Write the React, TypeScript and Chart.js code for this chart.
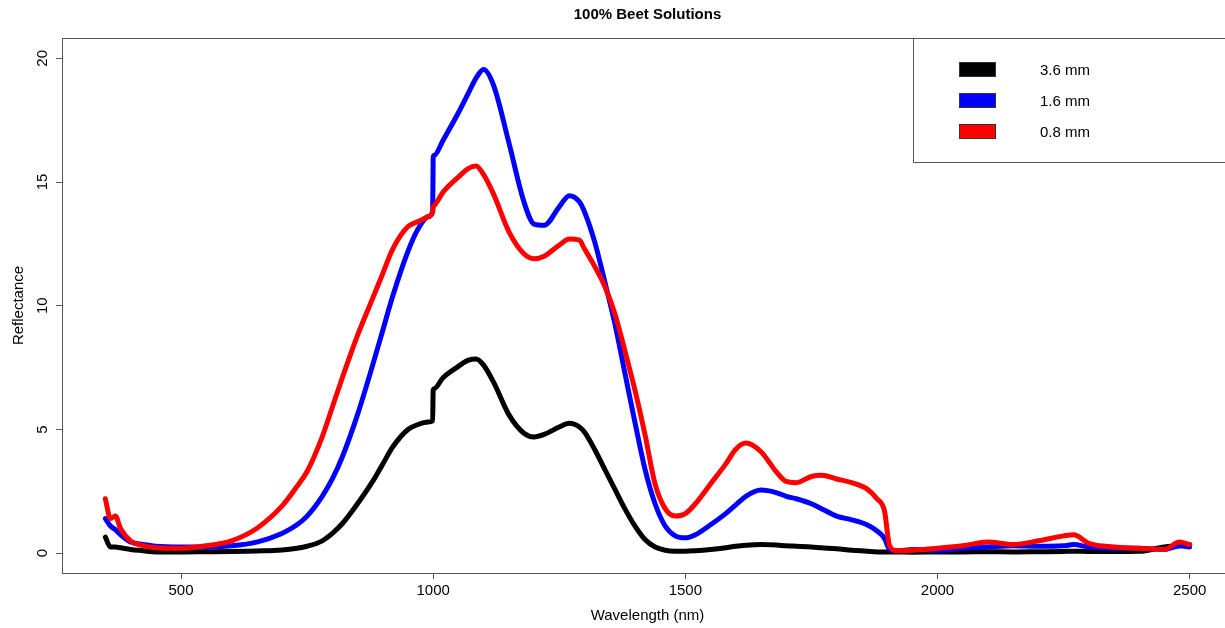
import React, { useEffect, useRef } from "react";
import { Chart, registerables } from "chart.js";

Chart.register(...registerables);

// Wavelength grid (nm) shared by all three spectra
const wavelengths = [
  350, 360, 370, 380, 400, 425, 450, 500, 550, 600, 650, 700, 730, 750, 780, 800,
  820, 850, 880, 900, 920, 950, 970, 990, 999, 1000, 1002, 1020, 1050, 1070, 1085, 1100,
  1120, 1150, 1180, 1200, 1220, 1250, 1270, 1290, 1300, 1320, 1340, 1360, 1380,
  1400, 1420, 1440, 1460, 1480, 1500, 1520, 1550, 1580, 1600, 1620, 1650, 1680,
  1700, 1720, 1750, 1770, 1800, 1830, 1860, 1880, 1895, 1905, 1920, 1950, 2000,
  2050, 2100, 2150, 2200, 2250, 2270, 2300, 2350, 2400, 2450, 2480, 2500,
];

// Reflectance (%) for a 3.6 mm path length
const reflect36 = [
  0.65, 0.25, 0.25, 0.22, 0.15, 0.1, 0.05, 0.05, 0.06, 0.07, 0.09, 0.13, 0.2, 0.28, 0.5, 0.8,
  1.2, 2.0, 2.9, 3.6, 4.3, 5.0, 5.2, 5.3, 5.35, 6.6, 6.65, 7.1, 7.55, 7.8, 7.85, 7.6,
  6.9, 5.6, 4.85, 4.7, 4.8, 5.1, 5.25, 5.1, 4.9, 4.2, 3.4, 2.6, 1.8,
  1.1, 0.55, 0.25, 0.12, 0.08, 0.08, 0.1, 0.15, 0.22, 0.28, 0.32, 0.35, 0.33,
  0.3, 0.28, 0.25, 0.22, 0.18, 0.12, 0.08, 0.05, 0.05, 0.05, 0.05, 0.04, 0.05,
  0.05, 0.06, 0.05, 0.06, 0.07, 0.08, 0.07, 0.07, 0.08, 0.25, 0.3, 0.35,
];

// Reflectance (%) for a 1.6 mm path length
const reflect16 = [
  1.4, 1.1, 0.95, 0.75, 0.45, 0.35, 0.28, 0.25, 0.25, 0.3, 0.45, 0.8, 1.15, 1.5, 2.3, 3.0,
  3.9, 5.6, 7.6, 9.0, 10.4, 12.2, 13.1, 13.6, 13.8, 16.0, 16.07, 16.7, 17.8, 18.6, 19.2, 19.55,
  18.9, 16.6, 14.2, 13.3, 13.25, 14.0, 14.45, 14.2, 13.8, 12.6, 11.0, 9.3, 7.3,
  5.3, 3.4, 2.0, 1.1, 0.7, 0.62, 0.75, 1.15, 1.6, 1.95, 2.3, 2.55, 2.45,
  2.3, 2.2, 2.0, 1.8, 1.5, 1.35, 1.15, 0.9, 0.6, 0.15, 0.1, 0.15, 0.12,
  0.2, 0.25, 0.3, 0.28, 0.3, 0.35, 0.25, 0.2, 0.2, 0.15, 0.3, 0.25,
];

// Reflectance (%) for a 0.8 mm path length
const reflect08 = [
  2.2, 1.4, 1.5, 1.0, 0.5, 0.3, 0.22, 0.2, 0.3, 0.5, 1.0, 1.9, 2.7, 3.3, 4.7, 5.9,
  7.1, 8.8, 10.3, 11.3, 12.3, 13.2, 13.4, 13.6, 13.8, 14.0, 14.05, 14.6, 15.2, 15.55, 15.65, 15.3,
  14.5, 13.0, 12.1, 11.9, 12.0, 12.45, 12.7, 12.65, 12.3, 11.6, 10.8, 9.7, 8.2,
  6.6, 4.8, 2.8, 1.8, 1.5, 1.6, 2.0, 2.8, 3.6, 4.2, 4.45, 4.1, 3.3,
  2.9, 2.85, 3.1, 3.15, 3.0, 2.85, 2.6, 2.2, 1.7, 0.3, 0.1, 0.12, 0.2,
  0.3, 0.45, 0.35, 0.5, 0.7, 0.75, 0.4, 0.25, 0.2, 0.15, 0.45, 0.35,
];

const seriesLabels = ["3.6 mm", "1.6 mm", "0.8 mm"];
const seriesColors = ["#000000", "#0000ff", "#ff0000"];
const seriesValues = [reflect36, reflect16, reflect08];

const xTickValues = [500, 1000, 1500, 2000, 2500];
const yTickValues = [0, 5, 10, 15, 20];

const chartTitle = "100% Beet Solutions";
const xTitle = "Wavelength (nm)";
const yTitle = "Reflectance";

const FONT = '"Liberation Sans", Arial, Helvetica, sans-serif';
const AXIS_COLOR = "#555555";

// Title, rotated y labels, frame and legend drawn over the chart
const decorations = {
  id: "decorations",
  afterDraw(chart: any) {
    const { ctx, chartArea, scales } = chart;
    const yScale = scales.y;
    const xScale = scales.x;
    ctx.save();

    // frame around the plotting region
    ctx.strokeStyle = AXIS_COLOR;
    ctx.lineWidth = 1;
    ctx.strokeRect(
      Math.round(chartArea.left) + 0.5,
      Math.round(chartArea.top) + 0.5,
      Math.round(chartArea.right - chartArea.left),
      Math.round(chartArea.bottom - chartArea.top)
    );

    // title
    ctx.fillStyle = "#000";
    ctx.font = `bold 15px ${FONT}`;
    ctx.textAlign = "center";
    ctx.textBaseline = "middle";
    ctx.fillText(chartTitle, (chartArea.left + chartArea.right) / 2, 15);

    // y tick labels, rotated like the axis title
    ctx.font = `15px ${FONT}`;
    for (const t of yScale.ticks) {
      const y = yScale.getPixelForValue(t.value);
      ctx.save();
      ctx.translate(43, y);
      ctx.rotate(-Math.PI / 2);
      ctx.fillText(String(t.value), 0, 0);
      ctx.restore();
    }

    // axis titles
    ctx.save();
    ctx.translate(19, (chartArea.top + chartArea.bottom) / 2);
    ctx.rotate(-Math.PI / 2);
    ctx.fillText(yTitle, 0, 0);
    ctx.restore();
    ctx.fillText(xTitle, (xScale.left + xScale.right) / 2, 616);

    // legend box in the top-right corner
    const boxLeft = 913;
    const boxBottom = 162;
    ctx.strokeStyle = AXIS_COLOR;
    ctx.beginPath();
    ctx.moveTo(boxLeft + 0.5, chartArea.top);
    ctx.lineTo(boxLeft + 0.5, boxBottom + 0.5);
    ctx.lineTo(chartArea.right, boxBottom + 0.5);
    ctx.stroke();

    ctx.textAlign = "left";
    seriesLabels.forEach((label, i) => {
      const cy = 69 + i * 31;
      ctx.fillStyle = seriesColors[i];
      ctx.fillRect(959, cy - 7, 37, 15);
      ctx.strokeStyle = "#333";
      ctx.strokeRect(959.5, cy - 6.5, 36, 14);
      ctx.fillStyle = "#000";
      ctx.fillText(label, 1040, cy + 2);
    });

    ctx.restore();
  },
};

export default function App() {
  const canvasRef = useRef<HTMLCanvasElement | null>(null);

  useEffect(() => {
    if (!canvasRef.current) return;
    const datasets = seriesLabels.map((label, i) => ({
      label,
      data: wavelengths.map((w, k) => ({ x: w, y: seriesValues[i][k] })),
      borderColor: seriesColors[i],
      backgroundColor: seriesColors[i],
      borderWidth: 5,
      pointRadius: 0,
      cubicInterpolationMode: "monotone" as const,
      borderCapStyle: "round" as const,
      borderJoinStyle: "round" as const,
      fill: false,
      order: 3 - i,
    }));

    const chart = new Chart(canvasRef.current, {
      type: "line",
      data: { datasets },
      options: {
        animation: false,
        responsive: true,
        maintainAspectRatio: false,
        layout: { padding: { left: 0, right: 7, top: 38, bottom: 0 } },
        plugins: {
          legend: { display: false },
          title: { display: false },
          tooltip: { enabled: false },
        },
        scales: {
          x: {
            type: "linear",
            min: 264,
            max: 2586,
            afterBuildTicks: (scale: any) => {
              scale.ticks = xTickValues.map((value) => ({ value }));
            },
            grid: {
              drawOnChartArea: false,
              drawTicks: true,
              tickLength: 6,
              color: AXIS_COLOR,
            },
            border: { display: true, color: AXIS_COLOR },
            ticks: {
              padding: 3,
              color: "#000",
              font: { family: FONT, size: 15 },
              maxRotation: 0,
              autoSkip: false,
              callback: (v: any) => String(v),
            },
            afterFit: (scale: any) => {
              scale.height = 55;
            },
          },
          y: {
            type: "linear",
            min: -0.8,
            max: 20.82,
            afterBuildTicks: (scale: any) => {
              scale.ticks = yTickValues.map((value) => ({ value }));
            },
            grid: {
              drawOnChartArea: false,
              drawTicks: true,
              tickLength: 6,
              color: AXIS_COLOR,
            },
            border: { display: true, color: AXIS_COLOR },
            ticks: {
              display: false,
            },
            afterFit: (scale: any) => {
              scale.width = 62;
            },
          },
        },
      },
      plugins: [decorations],
    });

    return () => chart.destroy();
  }, []);

  return (
    <div
      style={{
        position: "fixed",
        left: 0,
        top: 0,
        width: 1225,
        height: 628,
        overflow: "hidden",
        background: "#fff",
      }}
    >
      <div style={{ position: "relative", width: 1240, height: 628 }}>
        <canvas ref={canvasRef} />
      </div>
    </div>
  );
}
